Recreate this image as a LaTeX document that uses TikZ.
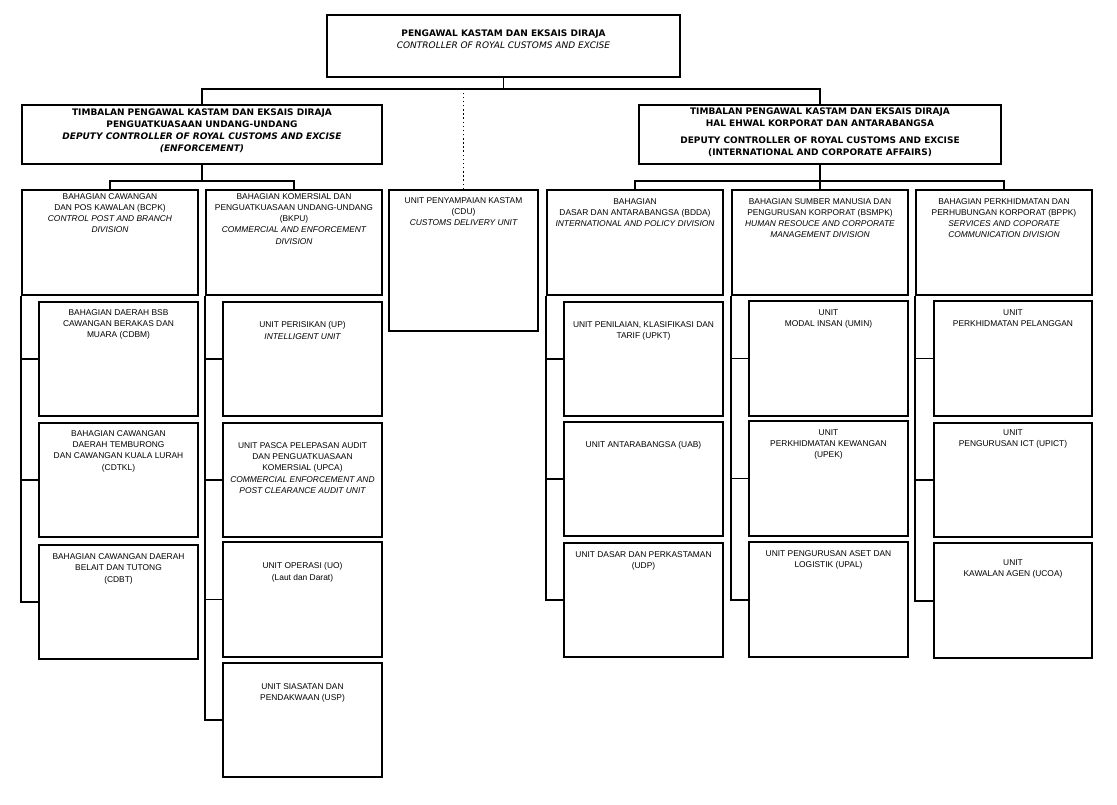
\documentclass[tikz,border=0pt]{standalone}
\usepackage{fontspec}
\setmainfont{Liberation Sans}
\newfontfamily\vfont{DejaVu Sans}
\usetikzlibrary{fit}
\tikzset{
  x=0.75pt, y=-0.75pt,
  tbox/.style={draw, line width=1.5pt, inner sep=0pt},
  dbox/.style={draw, line width=1.3pt, inner sep=0pt},
  ubox/.style={draw, line width=0.8pt, inner sep=0pt},
  ttxt/.style={font=\vfont\fontsize{6.75}{9}\selectfont, align=center, inner sep=0pt},
  dtxt/.style={font=\fontsize{6.3}{8.4}\selectfont, align=center, inner sep=0pt},
  conn/.style={line width=1.1pt},
  spine/.style={line width=1.5pt},
  dots/.style={line width=1.1pt, dotted},
}
% #1 box style, #2 text style, #3 name, #4-#7 corners (px), #8 text offset (px), #9 text
\newcommand\obox[9]{%
  \path (#4,#5) coordinate (#3-nw) (#6,#7) coordinate (#3-se);
  \node[#1, fit=(#3-nw)(#3-se),
        label={[#2, anchor=north, yshift={-(#8)*0.75pt}]north:{#9}}] (#3) {};
}
\begin{document}
\begin{tikzpicture}
\fill[white] (0,0) rectangle (1117,805);
\useasboundingbox (0,0) rectangle (1117,805);

% top level
\obox{tbox}{ttxt}{top}{327}{15}{680}{77}{16}{{\bfseries PENGAWAL KASTAM DAN EKSAIS DIRAJA}\\{\itshape CONTROLLER OF ROYAL CUSTOMS AND EXCISE}}
\obox{tbox}{ttxt}{ldep}{22}{105}{382}{164}{5}{{\bfseries TIMBALAN PENGAWAL KASTAM DAN EKSAIS DIRAJA}\\{\bfseries PENGUATKUASAAN UNDANG-UNDANG}\\{\bfseries\itshape DEPUTY CONTROLLER OF ROYAL CUSTOMS AND EXCISE}\\{\bfseries\itshape (ENFORCEMENT)}}
\obox{tbox}{ttxt}{rdep}{639}{105}{1001}{164}{4}{{\bfseries TIMBALAN PENGAWAL KASTAM DAN EKSAIS DIRAJA}\\{\bfseries HAL EHWAL KORPORAT DAN ANTARABANGSA}\\[3.5pt]{\bfseries DEPUTY CONTROLLER OF ROYAL CUSTOMS AND EXCISE}\\{\bfseries (INTERNATIONAL AND CORPORATE AFFAIRS)}}

% divisions
\obox{dbox}{dtxt}{bcpk}{22}{190}{198}{295}{4}{BAHAGIAN CAWANGAN\\DAN POS KAWALAN (BCPK)\\{\itshape CONTROL POST AND BRANCH}\\{\itshape DIVISION}}
\obox{dbox}{dtxt}{bkpu}{206}{190}{382}{295}{4}{BAHAGIAN KOMERSIAL DAN\\PENGUATKUASAAN UNDANG-UNDANG\\(BKPU)\\{\itshape COMMERCIAL AND ENFORCEMENT}\\{\itshape DIVISION}}
\obox{dbox}{dtxt}{cdu}{389}{190}{538}{331}{8}{UNIT PENYAMPAIAN KASTAM\\(CDU)\\{\itshape CUSTOMS DELIVERY UNIT}}
\obox{dbox}{dtxt}{bdda}{547}{190}{723}{295}{9}{BAHAGIAN\\DASAR DAN ANTARABANGSA (BDDA)\\{\itshape INTERNATIONAL AND POLICY DIVISION}}
\obox{dbox}{dtxt}{bsmpk}{732}{190}{908}{295}{9}{BAHAGIAN SUMBER MANUSIA DAN\\PENGURUSAN KORPORAT (BSMPK)\\{\itshape HUMAN RESOUCE AND CORPORATE}\\{\itshape MANAGEMENT DIVISION}}
\obox{dbox}{dtxt}{bppk}{916}{190}{1092}{295}{9}{BAHAGIAN PERKHIDMATAN DAN\\PERHUBUNGAN KORPORAT (BPPK)\\{\itshape SERVICES AND COPORATE}\\{\itshape COMMUNICATION DIVISION}}

% units under BCPK
\obox{ubox}{dtxt}{cdbm}{39}{302}{198}{416}{8}{BAHAGIAN DAERAH BSB\\CAWANGAN BERAKAS DAN\\MUARA (CDBM)}
\obox{ubox}{dtxt}{cdtkl}{39}{423}{198}{537}{8}{BAHAGIAN CAWANGAN\\DAERAH TEMBURONG\\DAN CAWANGAN KUALA LURAH\\(CDTKL)}
\obox{ubox}{dtxt}{cdbt}{39}{545}{198}{659}{9}{BAHAGIAN CAWANGAN DAERAH\\BELAIT DAN TUTONG\\(CDBT)}
% units under BKPU
\obox{ubox}{dtxt}{up}{223}{302}{382}{416}{20}{UNIT PERISIKAN (UP)\\{\itshape INTELLIGENT UNIT}}
\obox{ubox}{dtxt}{upca}{223}{423}{382}{537}{20}{UNIT PASCA PELEPASAN AUDIT\\DAN PENGUATKUASAAN\\KOMERSIAL (UPCA)\\{\itshape COMMERCIAL ENFORCEMENT AND}\\{\itshape POST CLEARANCE AUDIT UNIT}}
\obox{ubox}{dtxt}{uo}{223}{542}{382}{657}{21}{UNIT OPERASI (UO)\\(Laut dan Darat)}
\obox{ubox}{dtxt}{usp}{223}{663}{382}{777}{21}{UNIT SIASATAN DAN\\PENDAKWAAN (USP)}
% units under BDDA
\obox{ubox}{dtxt}{upkt}{564}{302}{723}{416}{20}{UNIT PENILAIAN, KLASIFIKASI DAN\\TARIF (UPKT)}
\obox{ubox}{dtxt}{uab}{564}{422}{723}{536}{20}{UNIT ANTARABANGSA (UAB)}
\obox{ubox}{dtxt}{udp}{564}{543}{723}{657}{9}{UNIT DASAR DAN PERKASTAMAN\\(UDP)}
% units under BSMPK
\obox{ubox}{dtxt}{umin}{749}{301}{908}{416}{9}{UNIT\\MODAL INSAN (UMIN)}
\obox{ubox}{dtxt}{upek}{749}{421}{908}{536}{9}{UNIT\\PERKHIDMATAN KEWANGAN\\(UPEK)}
\obox{ubox}{dtxt}{upal}{749}{542}{908}{657}{9}{UNIT PENGURUSAN ASET DAN\\LOGISTIK (UPAL)}
% units under BPPK
\obox{ubox}{dtxt}{upp}{934}{301}{1092}{416}{9}{UNIT\\PERKHIDMATAN PELANGGAN}
\obox{ubox}{dtxt}{upict}{934}{423}{1092}{537}{7}{UNIT\\PENGURUSAN ICT (UPICT)}
\obox{ubox}{dtxt}{ucoa}{934}{543}{1092}{658}{17}{UNIT\\KAWALAN AGEN (UCOA)}

% connectors: top level
\draw[conn] (top.south) -- ++(0,11) coordinate (j0);
\draw[conn] (ldep.north) -- (ldep.north |- j0) -| (rdep.north);
\draw[dots] (cdu.north) -- (cdu.north |- j0);
% left deputy to divisions
\draw[conn] (ldep.south) -- ++(0,16) coordinate (j1);
\draw[conn] (bcpk.north) |- (j1) -| (bkpu.north);
% right deputy to divisions
\draw[conn] (rdep.south) -- (bsmpk.north);
\draw[conn] (bdda.north) |- (bsmpk.north |- j1) -| (bppk.north);

% spines and branches
\draw[spine] (bcpk.south west) |- (cdbt.west);
\draw[conn] (cdbm.west) -- (cdbm.west -| bcpk.west);
\draw[conn] (cdtkl.west) -- (cdtkl.west -| bcpk.west);

\draw[spine] (bkpu.south west) |- (usp.west);
\draw[conn] (up.west) -- (up.west -| bkpu.west);
\draw[conn] (upca.west) -- (upca.west -| bkpu.west);
\draw[conn] (uo.west) -- (uo.west -| bkpu.west);

\draw[spine] (bdda.south west) |- (udp.west);
\draw[conn] (upkt.west) -- (upkt.west -| bdda.west);
\draw[conn] (uab.west) -- (uab.west -| bdda.west);

\draw[spine] (bsmpk.south west) |- (upal.west);
\draw[conn] (umin.west) -- (umin.west -| bsmpk.west);
\draw[conn] (upek.west) -- (upek.west -| bsmpk.west);

\draw[spine] (bppk.south west) |- (ucoa.west);
\draw[conn] (upp.west) -- (upp.west -| bppk.west);
\draw[conn] (upict.west) -- (upict.west -| bppk.west);
\end{tikzpicture}
\end{document}
